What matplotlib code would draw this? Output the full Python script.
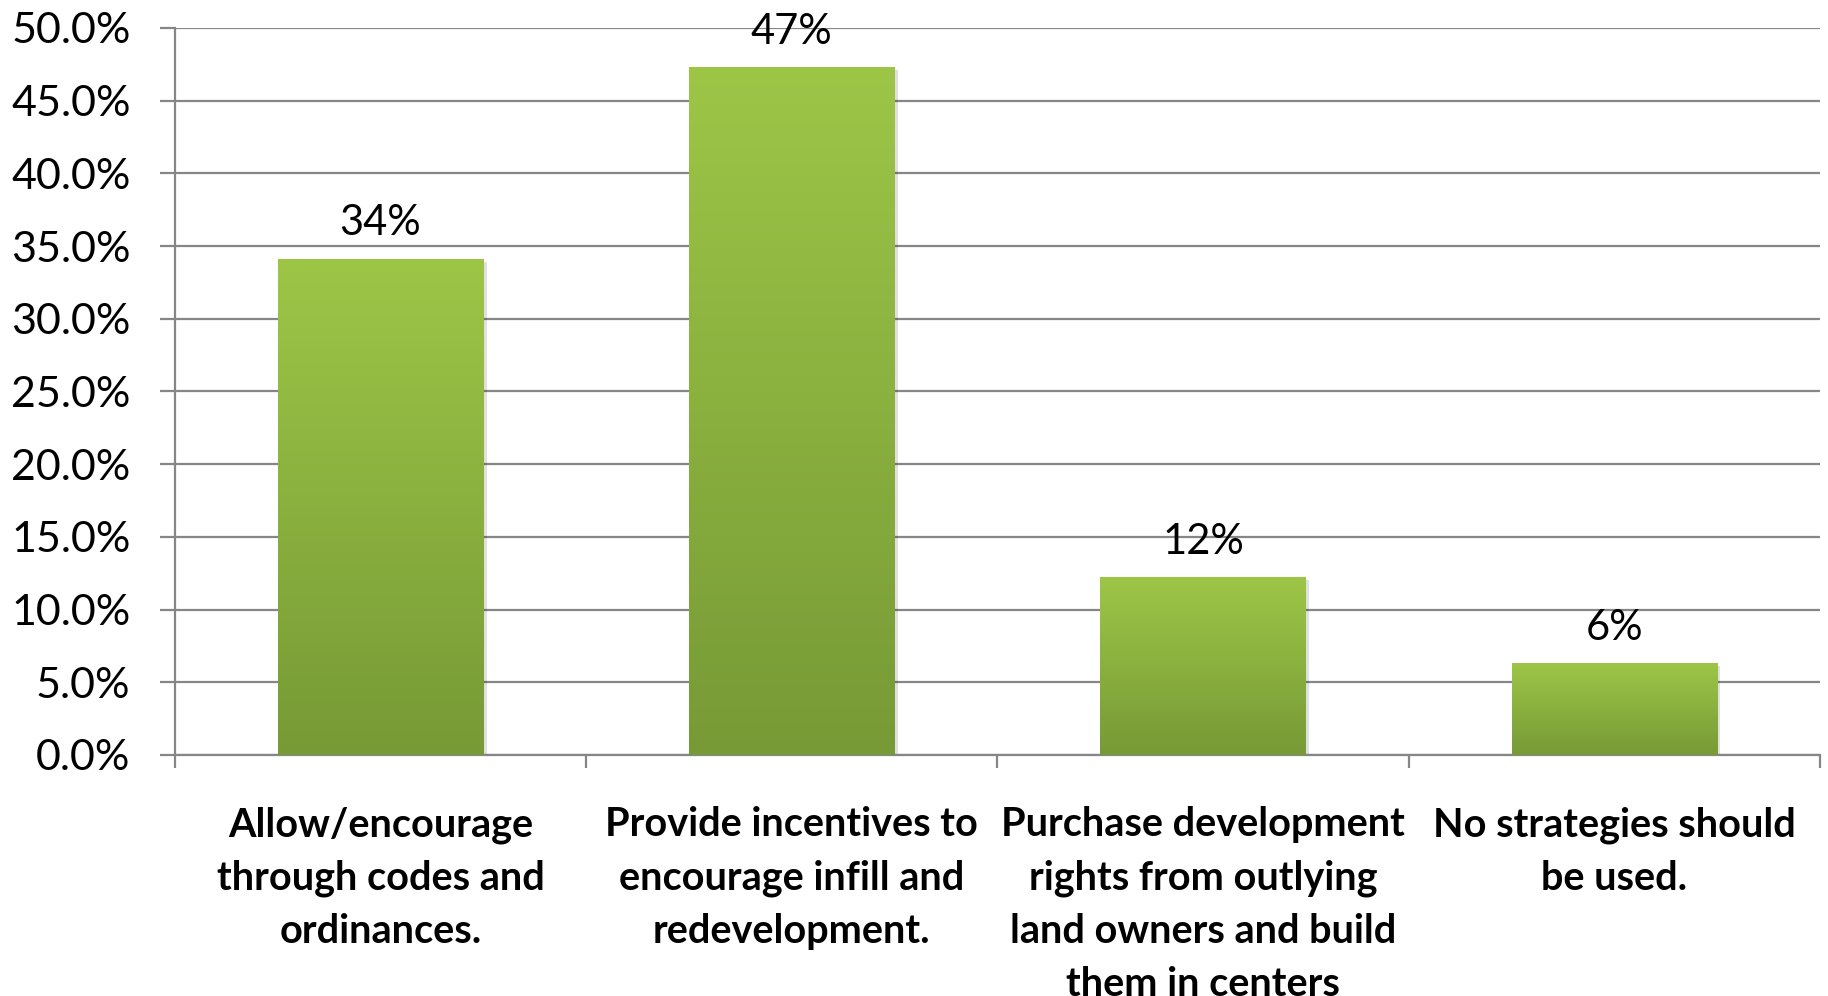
import numpy as np
import matplotlib.pyplot as plt
from matplotlib.colors import LinearSegmentedColormap
from matplotlib.ticker import FuncFormatter

categories = [
    'Allow/encourage\nthrough codes and\nordinances.',
    'Provide incentives to\nencourage infill and\nredevelopment.',
    'Purchase development\nrights from outlying\nland owners and build\nthem in centers',
    'No strategies should\nbe used.',
]
values = [0.341, 0.473, 0.122, 0.063]
value_labels = ['34%', '47%', '12%', '6%']

plt.rcParams['font.family'] = ['Lato', 'DejaVu Sans']

fig = plt.figure(figsize=(18.28, 9.96), dpi=100)
ax = fig.add_axes([0.0957, 0.242, 0.8999, 0.730])

x = np.arange(len(categories))
bars = ax.bar(x, values, width=0.5, color='none', zorder=3)

# vertical gradient inside each bar (Excel style)
green = LinearSegmentedColormap.from_list('grn', ['#779A36', '#9DC647'])
grad = np.linspace(0, 1, 256).reshape(-1, 1)
for b in bars:
    x0, w, h = b.get_x(), b.get_width(), b.get_height()
    # soft shadow
    ax.bar(x0 + w / 2 + 0.008, h, width=w, bottom=-0.002, color='#000000',
           alpha=0.12, zorder=2)
    ax.imshow(grad, extent=[x0, x0 + w, 0, h], origin='lower', cmap=green,
              aspect='auto', zorder=3)

for xi, v, lab in zip(x, values, value_labels):
    ax.annotate(lab, (xi, v), xytext=(0, 17), textcoords='offset points',
                ha='center', va='baseline', fontsize=30, color='#000000')

ax.set_xlim(-0.5, 3.5)
ax.set_ylim(0, 0.5)
ax.set_yticks(np.arange(0, 0.501, 0.05))
ax.yaxis.set_major_formatter(FuncFormatter(lambda v, p: f'{v * 100:.1f}%'))
ax.tick_params(axis='y', labelsize=31, length=11, width=1.6, color='#868686', pad=21)

ax.set_xticks(np.arange(-0.5, 3.6, 1))
ax.set_xticklabels([])
ax.tick_params(axis='x', which='major', length=9, width=1.6, color='#868686')
ax.set_xticks(x, minor=True)
ax.set_xticklabels(categories, minor=True, fontsize=28.5, fontweight='bold', linespacing=1.53)
ax.tick_params(axis='x', which='minor', length=0, pad=37)

ax.grid(axis='y', color='#868686', linewidth=1.6)
ax.set_axisbelow(True)
for s in ['top', 'right']:
    ax.spines[s].set_visible(False)
for s in ['left', 'bottom']:
    ax.spines[s].set_color('#868686')
    ax.spines[s].set_linewidth(1.6)

plt.savefig('out.png', dpi=100)
plt.close()
